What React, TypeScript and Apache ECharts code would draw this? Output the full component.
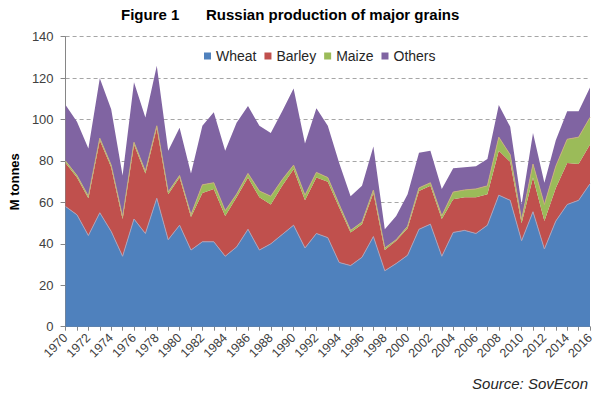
import React, { useEffect, useRef } from "react";
import * as echarts from "echarts";

const years = [
  "1970", "1971", "1972", "1973", "1974", "1975", "1976", "1977", "1978", "1979",
  "1980", "1981", "1982", "1983", "1984", "1985", "1986", "1987", "1988", "1989",
  "1990", "1991", "1992", "1993", "1994", "1995", "1996", "1997", "1998", "1999",
  "2000", "2001", "2002", "2003", "2004", "2005", "2006", "2007", "2008", "2009",
  "2010", "2011", "2012", "2013", "2014", "2015", "2016",
];

const wheat = [
  58, 54, 44, 55, 46, 34, 52, 45, 62, 42,
  49, 37, 41, 41, 34, 38.5, 47, 37, 40, 44.5,
  49, 38, 45, 43, 31, 29.5, 33.5, 43.5, 27, 30.5,
  34.5, 47, 49.5, 34, 45.5, 46.5, 45, 49, 63.5, 61,
  41.5, 55.5, 37.5, 51, 59, 61, 69,
];
const barley = [
  21, 18, 18, 35, 31, 18, 36, 29, 34, 22,
  23, 16, 23.5, 25.5, 19.5, 24, 25, 25.5, 19, 23.5,
  27, 23, 27, 27, 26.5, 16, 16, 21, 10, 11,
  13, 18.5, 18.5, 18, 16, 16, 17.5, 15, 21.5, 18.5,
  8.5, 16.5, 13.5, 16, 20, 17.5, 19,
];
const maize = [
  1, 1, 1, 1, 1, 1, 1, 1, 1, 1,
  1, 1, 4, 3, 2.5, 1.5, 2, 3, 4, 3,
  2, 2.5, 2.5, 2, 1.5, 1, 1, 1.5, 1, 0.5,
  1, 1.5, 1.5, 1.5, 3.5, 3.5, 4, 4, 6.5, 3.5,
  1.5, 6.5, 8, 10.5, 11.5, 13, 13,
];
const others = [
  27, 26, 23, 29, 27, 20, 29, 26, 29, 20,
  23, 20, 28.5, 34, 29, 34.5, 32.5, 31.5, 30.5, 33,
  37, 25, 31, 25, 20, 16.5, 17.5, 21, 9, 11.5,
  15.5, 17, 15.5, 13, 11.5, 11, 11, 13, 15.5, 13.5,
  7.5, 15, 10.5, 12.5, 13.5, 12.5, 14.5,
];

const seriesNames = ["Wheat", "Barley", "Maize", "Others"];
const colors = ["#4F81BD", "#C0504D", "#9BBB59", "#8064A2"];
const yTicks = { min: 0, max: 140, interval: 20 };

const FONT = "'Liberation Sans', Arial, sans-serif";

export default function App() {
  const ref = useRef<HTMLDivElement>(null);
  useEffect(() => {
    if (!ref.current) return;
    document.body.style.margin = "0";
    const chart = echarts.init(ref.current, undefined, { renderer: "svg" });
    const dataSets = [wheat, barley, maize, others];
    const lineStyles = [
      { width: 1, color: "#a9a3bb" },
      { width: 0 },
      { width: 1, color: "#c8b07a" },
      { width: 0 },
    ];
    chart.setOption({
      animation: false,
      backgroundColor: "#ffffff",
      textStyle: { fontFamily: FONT },
      color: colors,
      grid: { left: 56, right: 10, top: 36.7, bottom: 68.3, containLabel: false },
      legend: {
        data: seriesNames,
        left: 199,
        top: 44,
        itemWidth: 7,
        itemHeight: 7,
        itemGap: 8,
        icon: "rect",
        textStyle: { fontFamily: FONT, fontSize: 14, color: "#262626" },
      },
      graphic: [
        {
          type: "text",
          left: 121,
          top: 7,
          style: { text: "Figure 1", font: `bold 15px ${FONT}`, fill: "#000" },
        },
        {
          type: "text",
          left: 206,
          top: 7,
          style: {
            text: "Russian production of major grains",
            font: `bold 15px ${FONT}`,
            fill: "#000",
          },
        },
        {
          type: "text",
          x: 588,
          y: 383,
          style: {
            text: "Source: SovEcon",
            font: `italic 15px ${FONT}`,
            fill: "#262626",
            align: "right",
            verticalAlign: "middle",
          },
        },
      ],
      xAxis: {
        type: "category",
        data: years,
        boundaryGap: false,
        axisLine: { show: true, lineStyle: { color: "#868686", width: 1 } },
        axisTick: { show: true, interval: 0, length: 4, lineStyle: { color: "#868686" } },
        axisLabel: {
          interval: 1,
          rotate: 45,
          fontSize: 12.5,
          color: "#404040",
          margin: 9,
          fontFamily: FONT,
        },
        splitLine: { show: false },
      },
      yAxis: {
        type: "value",
        min: yTicks.min,
        max: yTicks.max,
        interval: yTicks.interval,
        name: "M tonnes",
        nameLocation: "middle",
        nameGap: 36,
        nameRotate: 90,
        nameTextStyle: { fontFamily: FONT, fontSize: 13, fontWeight: "bold", color: "#000" },
        axisLine: { show: true, lineStyle: { color: "#868686", width: 1 } },
        axisTick: { show: true, length: 5, lineStyle: { color: "#868686" } },
        axisLabel: { fontSize: 13, color: "#404040", margin: 12, fontFamily: FONT },
        splitLine: {
          show: true,
          lineStyle: { color: "#a6a6a6", type: [4, 3], width: 1 },
        },
      },
      series: seriesNames.map((name, i) => ({
        name,
        type: "line",
        stack: "total",
        data: dataSets[i],
        symbol: "none",
        areaStyle: { color: colors[i], opacity: 1 },
        lineStyle: lineStyles[i],
        itemStyle: { color: colors[i] },
        emphasis: { disabled: true },
      })),
    });
    return () => chart.dispose();
  }, []);
  return <div ref={ref} style={{ width: 600, height: 395 }} />;
}
